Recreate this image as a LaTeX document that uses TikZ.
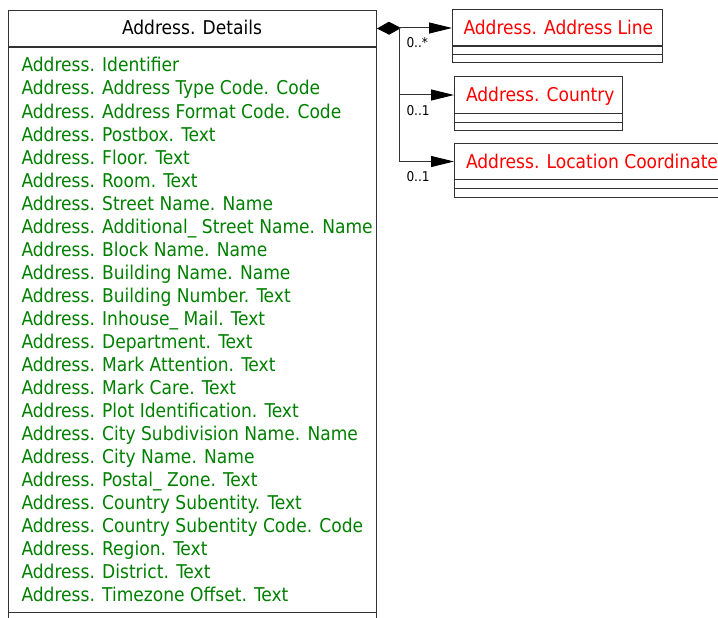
\documentclass[tikz,border=0pt]{standalone}
\usepackage{fontspec}
\setmainfont{DejaVu Sans Condensed}
\usetikzlibrary{arrows.meta}
\definecolor{attrgreen}{RGB}{0,128,0}
\definecolor{clsred}{RGB}{255,0,0}
\definecolor{edgegray}{RGB}{50,50,50}
\begin{document}
\begin{tikzpicture}[x=1pt,y=-1pt,line width=1pt,
  box/.style={draw=edgegray,inner sep=0pt,anchor=north west},
  attr/.style={text=attrgreen,inner sep=0pt,anchor=base west,font=\fontsize{19}{22}\selectfont},
  clstext/.style={text=clsred,inner sep=0pt,anchor=base west,font=\fontsize{19}{22}\selectfont},
  mult/.style={inner sep=0pt,anchor=base west,font=\fontsize{13.5}{15}\selectfont},
  assoc/.style={draw=edgegray,-{Triangle[length=23pt,width=11pt,fill=black,color=black]}},
]
\useasboundingbox (0,0) rectangle (718,618);
\fill[white] (0,0) rectangle (718,618);

% main class
\node[box,minimum width=368pt,minimum height=36pt] (hdr) at (8,10) {};
\node[inner sep=0pt,anchor=base,font=\fontsize{19}{22}\selectfont] (hdrtext) at (192,35) {Address. Details};
\node[box,minimum width=368pt,minimum height=620pt] (body) at (hdr.south west) {};
\draw[edgegray] (8,612) -- (376,612);

\foreach \t [count=\i from 0] in {
Address. Identifier,
Address. Address Type Code. Code,
Address. Address Format Code. Code,
Address. Postbox. Text,
Address. Floor. Text,
Address. Room. Text,
Address. Street Name. Name,
Address. Additional\_ Street Name. Name,
Address. Block Name. Name,
Address. Building Name. Name,
Address. Building Number. Text,
Address. Inhouse\_ Mail. Text,
Address. Department. Text,
Address. Mark Attention. Text,
Address. Mark Care. Text,
Address. Plot Identification. Text,
Address. City Subdivision Name. Name,
Address. City Name. Name,
Address. Postal\_ Zone. Text,
Address. Country Subentity. Text,
Address. Country Subentity Code. Code,
Address. Region. Text,
Address. District. Text,
Address. Timezone Offset. Text}
  \node[attr] (att\i) at (21,{72+23*\i}) {\t};

% Address Line
\node[box,minimum width=210pt,minimum height=37pt] (line) at (452,9) {};
\node[clstext] (linetext) at (463,35) {Address. Address Line};
\draw[edgegray] (452,46) rectangle (662,63);
\draw[edgegray] (452,55) -- (662,55);

% Country
\node[box,minimum width=168pt,minimum height=37pt] (country) at (454,76) {};
\node[clstext] (countrytext) at (465.5,101.5) {Address. Country};
\draw[edgegray] (454,113) rectangle (622,130);
\draw[edgegray] (454,122) -- (622,122);

% Location Coordinate
\node[box,minimum width=272pt,minimum height=36pt] (loc) at (454,143) {};
\node[clstext] (loctext) at (465.5,168) {Address. Location Coordinate};
\draw[edgegray] (454,179) rectangle (726,197);
\draw[edgegray] (454,188) -- (726,188);

% connectors
\coordinate (j) at (399,28);
\draw[edgegray,{Diamond[length=24pt,width=13pt,fill=black,color=black]}-] (hdr.east) -- (j);
\draw[assoc] (j) -- (j -| line.west);
\draw[assoc] (j) |- (country.west);
\draw[assoc] (j) |- (loc.west);

\node[mult] (m1) at (406,48) {0..*};
\node[mult] (m2) at (406,115) {0..1};
\node[mult] (m3) at (406,181) {0..1};
\end{tikzpicture}
\end{document}
